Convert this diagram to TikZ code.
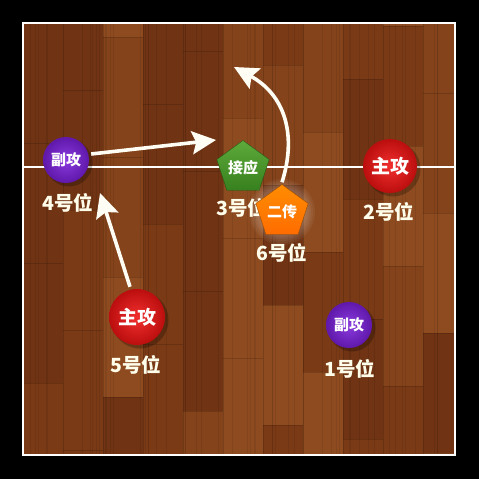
\documentclass[tikz,border=0pt]{standalone}
\usepackage{fontspec}
\newfontfamily\cjk{Noto Sans CJK SC}
\usetikzlibrary{shapes.geometric,arrows.meta,shadings}
\definecolor{wood1}{HTML}{7A3A16}
\definecolor{wood2}{HTML}{84431B}
\definecolor{wood3}{HTML}{8E4B20}
\definecolor{wood4}{HTML}{703414}
\definecolor{ballred}{HTML}{F01212}
\definecolor{ballpurple}{HTML}{7A1FDA}
\definecolor{pgreentop}{HTML}{5EAA3A}
\definecolor{pgreenbot}{HTML}{37801F}
\tikzset{
  ball/.style={circle, inner color=#1!88!white, outer color=#1!78!black, inner sep=0pt, text=white, font=\cjk\bfseries\fontsize{15}{15}\selectfont},
  pent/.style={regular polygon, regular polygon sides=5, minimum size=55pt, inner sep=0pt, text=white, font=\cjk\bfseries\fontsize{15}{15}\selectfont},
  poslabel/.style={text=white!92!yellow, font=\cjk\bfseries\fontsize{19.5}{19.5}\selectfont, inner sep=0pt},
  move/.style={white!96!yellow, line width=3.6pt, -{Stealth[length=24pt,width=23pt,inset=4pt]}},
}
\begin{document}
\begin{tikzpicture}[x=1pt,y=-1pt]
\useasboundingbox (0,0) rectangle (479,479);
\fill[black] (0,0) rectangle (479,479);
% wood floor
\begin{scope}
\clip (23,23) rectangle (455,455);
\pgfmathsetseed{11}
\foreach \c in {0,...,10} {
  \pgfmathsetmacro{\xa}{23+\c*40}
  \pgfmathsetmacro{\off}{mod(\c*53,120)}
  \foreach \r in {0,...,4} {
    \pgfmathrandominteger{\k}{1}{4}
    \pgfmathsetmacro{\ya}{23-\off+\r*120}
    \fill[wood\k] (\xa,\ya) rectangle ++(40,120);
    \draw[black,opacity=0.15,line width=0.6pt] (\xa,\ya) -- ++(40,0);
  }
  \draw[black,opacity=0.15,line width=0.6pt] (\xa,23) -- (\xa,455);
  \foreach \g in {1,...,5} {
    \pgfmathsetmacro{\gx}{\xa+rnd*40}
    \draw[black,opacity=0.08,line width=0.8pt] (\gx,23) -- (\gx,455);
  }
}
\end{scope}
% court
\draw[white, line width=2pt] (23,23) rectangle (455,455);
\draw[white, line width=2pt] (23,167) -- (455,167);
% labels
\node[poslabel] (l4) at (68,203) {4号位};
\node[poslabel] (l3) at (242,208) {3号位};
\node[poslabel] (l2) at (389,212) {2号位};
\node[poslabel] (l6) at (282,253) {6号位};
\node[poslabel] (l5) at (136,365) {5号位};
\node[poslabel] (l1) at (350,369) {1号位};
% shadows
\fill[black,opacity=0.25] (69,163) circle (23.5);
\fill[black,opacity=0.25] (393,169) circle (27.5);
\fill[black,opacity=0.25] (140,320) circle (28.5);
\fill[black,opacity=0.25] (352,328) circle (23.5);
% players
\node[ball=ballpurple, minimum size=46pt] (p4) at (66,160) {副攻};
\node[ball=ballred, minimum size=54pt, font=\cjk\bfseries\fontsize{19}{19}\selectfont] (p2) at (390,166) {主攻};
\node[ball=ballred, minimum size=56pt, font=\cjk\bfseries\fontsize{19}{19}\selectfont] (p5) at (137,317) {主攻};
\node[ball=ballpurple, minimum size=46pt] (p1) at (349,325) {副攻};
\node[pent, top color=pgreentop, bottom color=pgreenbot, draw=pgreenbot!70!black, line width=0.4pt] (p3) at (243,168) {接应};
% glow
\foreach \rr in {33,31,...,25} {\fill[white,opacity=0.05] (282,212) circle (\rr);}
\node[pent, top color=orange!90!yellow, bottom color=orange!85!red, draw=orange!60!black, line width=0.4pt] (p6) at (282,212) {二传};
% arrows
\coordinate (t1) at (216,140);
\coordinate (t2) at (100,193);
\coordinate (t3) at (234,67);
\draw[move] (p4.east) ++(2,-6) -- (t1);
\draw[move] (p5.north) ++(-7,-2) -- (t2);
\draw[move] (p6.north) ++(0,-2) .. controls (297,135) and (285,95) .. (t3);
\end{tikzpicture}
\end{document}
